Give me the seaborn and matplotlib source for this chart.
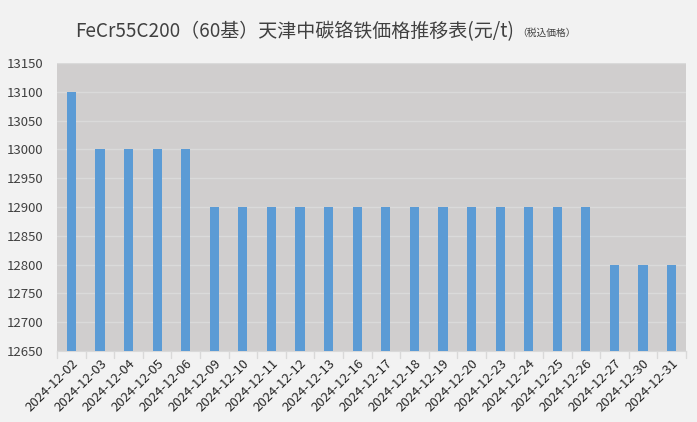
import pandas as pd
import matplotlib.pyplot as plt
import seaborn as sns

dates = ["2024-12-02", "2024-12-03", "2024-12-04", "2024-12-05", "2024-12-06",
         "2024-12-09", "2024-12-10", "2024-12-11", "2024-12-12", "2024-12-13",
         "2024-12-16", "2024-12-17", "2024-12-18", "2024-12-19", "2024-12-20",
         "2024-12-23", "2024-12-24", "2024-12-25", "2024-12-26", "2024-12-27",
         "2024-12-30", "2024-12-31"]
prices = [13100, 13000, 13000, 13000, 13000,
          12900, 12900, 12900, 12900, 12900,
          12900, 12900, 12900, 12900, 12900,
          12900, 12900, 12900, 12900, 12800,
          12800, 12800]

df = pd.DataFrame({"date": dates, "price": prices})

sns.set_style("white")
plt.rcParams["font.family"] = ["Noto Sans CJK JP", "DejaVu Sans"]

fig = plt.figure(figsize=(6.97, 4.22), dpi=100, facecolor="#f2f2f2")
ax = fig.add_axes([0.082, 0.168, 0.902, 0.683])
ax.set_facecolor("#d0cece")

sns.barplot(data=df, x="date", y="price", color="#5b9bd5", width=0.32,
            saturation=1, linewidth=0, ax=ax, zorder=3)

ax.set_ylim(12650, 13150)
ax.set_yticks(range(12650, 13151, 50))
ax.yaxis.grid(True, color="#dadada", linewidth=1, zorder=0)
ax.set_axisbelow(True)
ax.set_xlim(-0.5, len(dates) - 0.5)

for s in ["top", "right", "left"]:
    ax.spines[s].set_visible(False)
ax.spines["bottom"].set_color("#d9d9d9")

ax.set_xlabel("")
ax.set_ylabel("")
ax.tick_params(axis="y", length=0, labelsize=9.5, colors="#404040", pad=10)
ax.set_xticks(range(len(dates)))
ax.set_xticklabels(dates, rotation=45, ha="right", rotation_mode="anchor",
                   fontsize=9.5, color="#262626")
ax.tick_params(axis="x", length=0, pad=4)
# category boundary ticks
for i in range(len(dates) + 1):
    ax.plot([i - 0.5, i - 0.5], [0, -0.025], transform=ax.get_xaxis_transform(),
            color="#d9d9d9", linewidth=1, clip_on=False)

title = fig.text(0.108, 0.925, "FeCr55C200（60基）天津中碳铬铁価格推移表(元/t)",
                 fontsize=13.7, color="#404040", va="center", ha="left")
ax.annotate("（税込価格）", xy=(1, 0.5), xycoords=title, xytext=(2, -1),
            textcoords="offset points", fontsize=7, color="#404040",
            va="center", ha="left")

fig.savefig("out.png", dpi=100, facecolor=fig.get_facecolor())
